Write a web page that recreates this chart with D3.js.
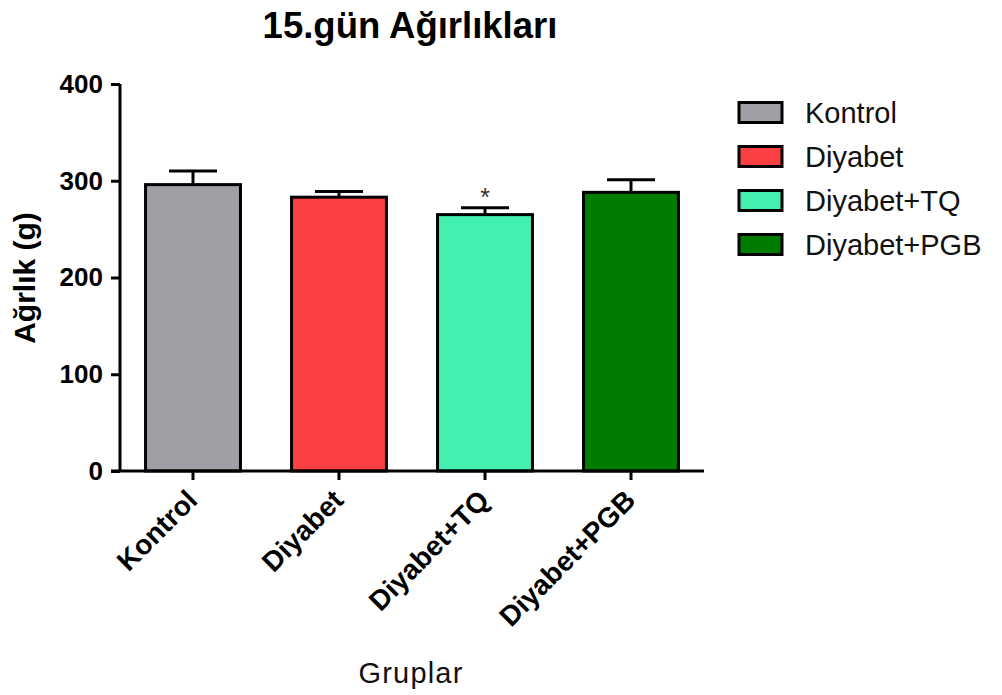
<!DOCTYPE html>
<html>
<head>
<meta charset="utf-8">
<script src="https://cdn.jsdelivr.net/npm/d3@7"></script>
<style>
  html, body { margin: 0; padding: 0; background: #fff; }
  svg { display: block; font-family: "Liberation Sans", Arial, sans-serif; }
</style>
</head>
<body>
<svg id="chart" width="1002" height="695"></svg>
<script>
// Day-15 body weights per group (mean and error)
const groups = ["Kontrol", "Diyabet", "Diyabet+TQ", "Diyabet+PGB"];
const means = [296, 283, 265, 288];
const errors = [14, 6, 7, 13];
const colors = ["#A19FA5", "#FA4042", "#43F0B0", "#007C00"];
const marks = ["", "", "*", ""];
const yTicks = [0, 100, 200, 300, 400];

const svg = d3.select("#chart");

const x = d3.scaleBand()
  .domain(groups)
  .range([120, 704])
  .paddingInner(0.35)
  .paddingOuter(0.175);

const y = d3.scaleLinear().domain([0, 400]).range([471, 84]);

// Title
svg.append("text")
  .attr("x", 410).attr("y", 38)
  .attr("text-anchor", "middle")
  .attr("font-size", 36.5).attr("font-weight", "bold")
  .text("15.gün Ağırlıkları");

// Bars
svg.append("g").selectAll("rect")
  .data(groups)
  .join("rect")
  .attr("x", d => x(d))
  .attr("width", x.bandwidth())
  .attr("y", (d, i) => y(means[i]))
  .attr("height", (d, i) => y(0) - y(means[i]))
  .attr("fill", (d, i) => colors[i])
  .attr("stroke", "#000")
  .attr("stroke-width", 3);

// Error bars (upper only)
const eb = svg.append("g").attr("stroke", "#000").attr("stroke-width", 3);
groups.forEach((g, i) => {
  const cx = x(g) + x.bandwidth() / 2;
  eb.append("line")
    .attr("x1", cx).attr("x2", cx)
    .attr("y1", y(means[i])).attr("y2", y(means[i] + errors[i]));
  eb.append("line")
    .attr("x1", cx - 24).attr("x2", cx + 24)
    .attr("y1", y(means[i] + errors[i])).attr("y2", y(means[i] + errors[i]));
});

// Significance marks
svg.append("g").selectAll("text")
  .data(groups)
  .join("text")
  .attr("x", d => x(d) + x.bandwidth() / 2)
  .attr("y", (d, i) => y(means[i] + errors[i]) - 2)
  .attr("text-anchor", "middle")
  .attr("font-size", 25)
  .attr("fill", "#333")
  .text((d, i) => marks[i]);

// Y axis
const yAxis = svg.append("g")
  .attr("transform", "translate(120,0)")
  .call(d3.axisLeft(y).tickValues(yTicks).tickSize(9).tickPadding(8));
yAxis.select(".domain").attr("stroke-width", 3).attr("d", `M0,${y(400)}V${y(0)}`);
yAxis.selectAll(".tick line").attr("stroke-width", 3);
yAxis.selectAll(".tick text")
  .attr("font-size", 26).attr("font-weight", "bold")
  .attr("font-family", "Liberation Sans, Arial, sans-serif")
  .attr("fill", "#000");

// X axis
const xAxis = svg.append("g")
  .attr("transform", "translate(0,471)")
  .call(d3.axisBottom(x).tickSize(9).tickSizeOuter(0));
xAxis.select(".domain").attr("stroke-width", 3).attr("d", "M111,0H704");
xAxis.selectAll(".tick line").attr("stroke-width", 3);
xAxis.selectAll(".tick text")
  .attr("font-size", 28).attr("font-weight", "bold")
  .attr("font-family", "Liberation Sans, Arial, sans-serif")
  .attr("fill", "#000")
  .attr("text-anchor", "end")
  .attr("dy", null)
  .attr("transform", "translate(6,31) rotate(-45)")
  .attr("x", 0).attr("y", 0);

// Axis titles
svg.append("text")
  .attr("transform", "translate(35,278) rotate(-90)")
  .attr("text-anchor", "middle")
  .attr("font-size", 30).attr("font-weight", "bold")
  .text("Ağrlık (g)");

svg.append("text")
  .attr("x", 411).attr("y", 683)
  .attr("text-anchor", "middle")
  .attr("font-size", 29)
  .attr("letter-spacing", 1.2)
  .attr("fill", "#111")
  .text("Gruplar");

// Legend
const legend = svg.append("g");
groups.forEach((g, i) => {
  const cy = 112.5 + i * 44;
  legend.append("rect")
    .attr("x", 739).attr("y", cy - 10)
    .attr("width", 43).attr("height", 20)
    .attr("fill", colors[i])
    .attr("stroke", "#000").attr("stroke-width", 3);
  legend.append("text")
    .attr("x", 805).attr("y", cy + 10)
    .attr("font-size", 29)
    .attr("fill", "#111")
    .text(g);
});
</script>
</body>
</html>
